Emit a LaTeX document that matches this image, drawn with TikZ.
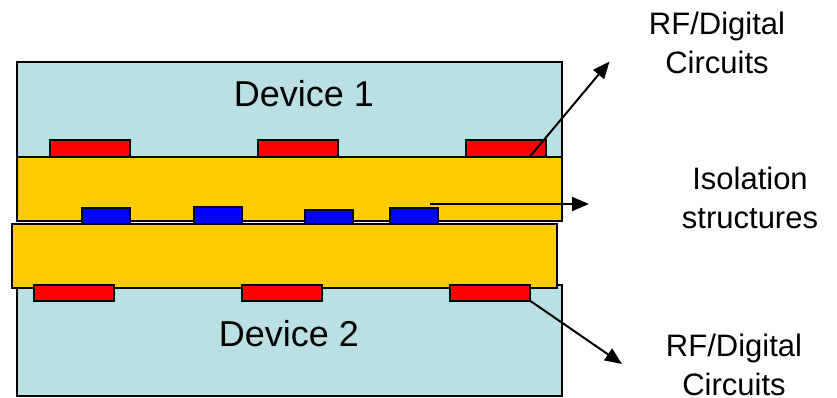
\documentclass[tikz,border=0pt]{standalone}
\usepackage{fontspec}
\setmainfont{Liberation Sans}
\usetikzlibrary{arrows.meta}
\definecolor{devcol}{RGB}{187,224,227}
\definecolor{isocol}{RGB}{255,204,0}
\definecolor{padred}{RGB}{255,0,0}
\definecolor{padblue}{RGB}{0,0,255}
\begin{document}
\begin{tikzpicture}[x=1pt,y=-1pt,
  layerbox/.style={draw=black,line width=1.5pt},
  device/.style={layerbox,fill=devcol},
  iso/.style={layerbox,fill=isocol},
  rfpad/.style={layerbox,fill=padred},
  bluepad/.style={layerbox,fill=padblue},
  pointer/.style={line width=2pt,-{Triangle[length=17pt,width=14pt]}},
  devlabel/.style={font=\fontsize{36}{43}\selectfont,inner sep=0pt,anchor=base},
  sidelabel/.style={font=\fontsize{31}{38.5}\selectfont,align=center,inner sep=0pt,anchor=base}]
\useasboundingbox (0,0) rectangle (837,397);
% Device 1 with its circuits
\path[device] (17,62) rectangle (562,157);
\path[rfpad] (50,140) rectangle (130,157);
\path[rfpad] (258,140) rectangle (338,157);
\path[rfpad] (466,140) rectangle (546,157);
\path[iso] (17,157) rectangle (562,221);
% isolation structures
\path[bluepad] (82,208) rectangle (130,223.5);
\path[bluepad] (194,207) rectangle (242,223.5);
\path[bluepad] (305,210) rectangle (353,223.5);
\path[bluepad] (390,208) rectangle (438,223.5);
% Device 2 with its circuits
\path[device] (17,285) rectangle (562,396);
\path[iso] (12,224) rectangle (557,288);
\path[rfpad] (34,285) rectangle (114,301);
\path[rfpad] (242,285) rectangle (322,301);
\path[rfpad] (450,285) rectangle (530,301);
% labels (base anchor = baseline of the last line)
\node[devlabel] (dev1) at (304,106.5) {Device 1};
\node[devlabel] (dev2) at (289,346.5) {Device 2};
\node[sidelabel] (rf1) at (717,73) {RF/Digital\\Circuits};
\node[sidelabel] (isol) at (750,228) {Isolation\\structures};
\node[sidelabel] (rf2) at (734,395) {RF/Digital\\Circuits};
% pointers
\coordinate (rf1src) at (530,156.5);
\coordinate (rf1tip) at (609.5,61.5);
\coordinate (isosrc) at (430,204);
\coordinate (isotip) at (589,204);
\coordinate (rf2src) at (529,300);
\coordinate (rf2tip) at (622,364);
\draw[pointer] (rf1src) -- (rf1tip);
\draw[pointer] (isosrc) -- (isotip);
\draw[pointer] (rf2src) -- (rf2tip);
\end{tikzpicture}
\end{document}
